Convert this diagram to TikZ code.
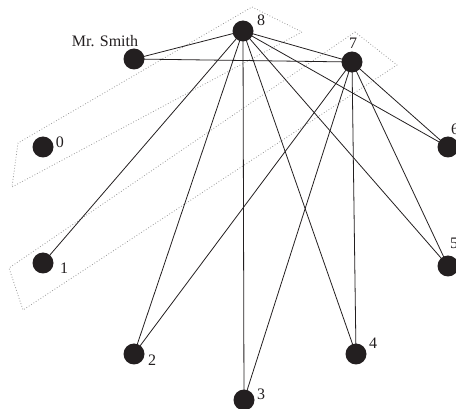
\documentclass[tikz,border=0pt]{standalone}
\usepackage{fontspec}
\setmainfont{Liberation Serif}
\begin{document}
\begin{tikzpicture}[x=1pt,y=-1pt,
  vertex/.style={circle,fill=dotblack,draw=none,minimum size=21pt,inner sep=0pt},
  tag/.style={font=\fontsize{16}{16}\selectfont,inner sep=0pt,text=dotblack},
  edge/.style={line width=0.8pt,draw=dotblack},
  group/.style={draw=gray!80,dotted,line width=0.8pt}]
\definecolor{dotblack}{HTML}{231F20}
\useasboundingbox (0,0) rectangle (456,409);
\clip (0,0) rectangle (456,409);

% dotted group outlines
\coordinate (ga) at (252,7);
\coordinate (gb) at (302,32);
\coordinate (gc) at (12,187);
\coordinate (gd) at (18,143);
\draw[group] (ga) -- (gb) -- (gc) -- (gd) -- cycle;
\coordinate (ha) at (355,32);
\coordinate (hb) at (397,65);
\coordinate (hc) at (23,310);
\coordinate (hd) at (9,268);
\draw[group] (ha) -- (hb) -- (hc) -- (hd) -- cycle;

% vertex positions
\coordinate (p8) at (243,31);
\coordinate (pS) at (134,59);
\coordinate (p7) at (352,62);
\coordinate (p0) at (43,147);
\coordinate (p6) at (448,147);
\coordinate (p1) at (43,263);
\coordinate (p5) at (448,266);
\coordinate (p2) at (134,354);
\coordinate (p4) at (356,354);
\coordinate (p3) at (244,400);

% edges
\foreach \a/\b in {p8/pS,p8/p7,pS/p7,p8/p1,p8/p2,p8/p3,p8/p4,p8/p5,p8/p6,
                   p7/p2,p7/p3,p7/p4,p7/p5,p7/p6}
  \draw[edge] (\a) -- (\b);

% vertices
\node[vertex] (n8) at (p8) {};
\node[vertex] (nS) at (pS) {};
\node[vertex] (n7) at (p7) {};
\node[vertex] (n0) at (p0) {};
\node[vertex] (n6) at (p6) {};
\node[vertex] (n1) at (p1) {};
\node[vertex] (n5) at (p5) {};
\node[vertex] (n2) at (p2) {};
\node[vertex] (n4) at (p4) {};
\node[vertex] (n3) at (p3) {};

% labels
\node[tag] (l8) at (261,20) {8};
\node[tag] (lS) at (105,41) {Mr. Smith};
\node[tag] (l7) at (353,43) {7};
\node[tag] (l0) at (60,142) {0};
\node[tag] (l6) at (455,129) {6};
\node[tag] (l1) at (64,268) {1};
\node[tag] (l5) at (454,243) {5};
\node[tag] (l2) at (152,360) {2};
\node[tag] (l4) at (373,343) {4};
\node[tag] (l3) at (261,394) {3};
\end{tikzpicture}
\end{document}
